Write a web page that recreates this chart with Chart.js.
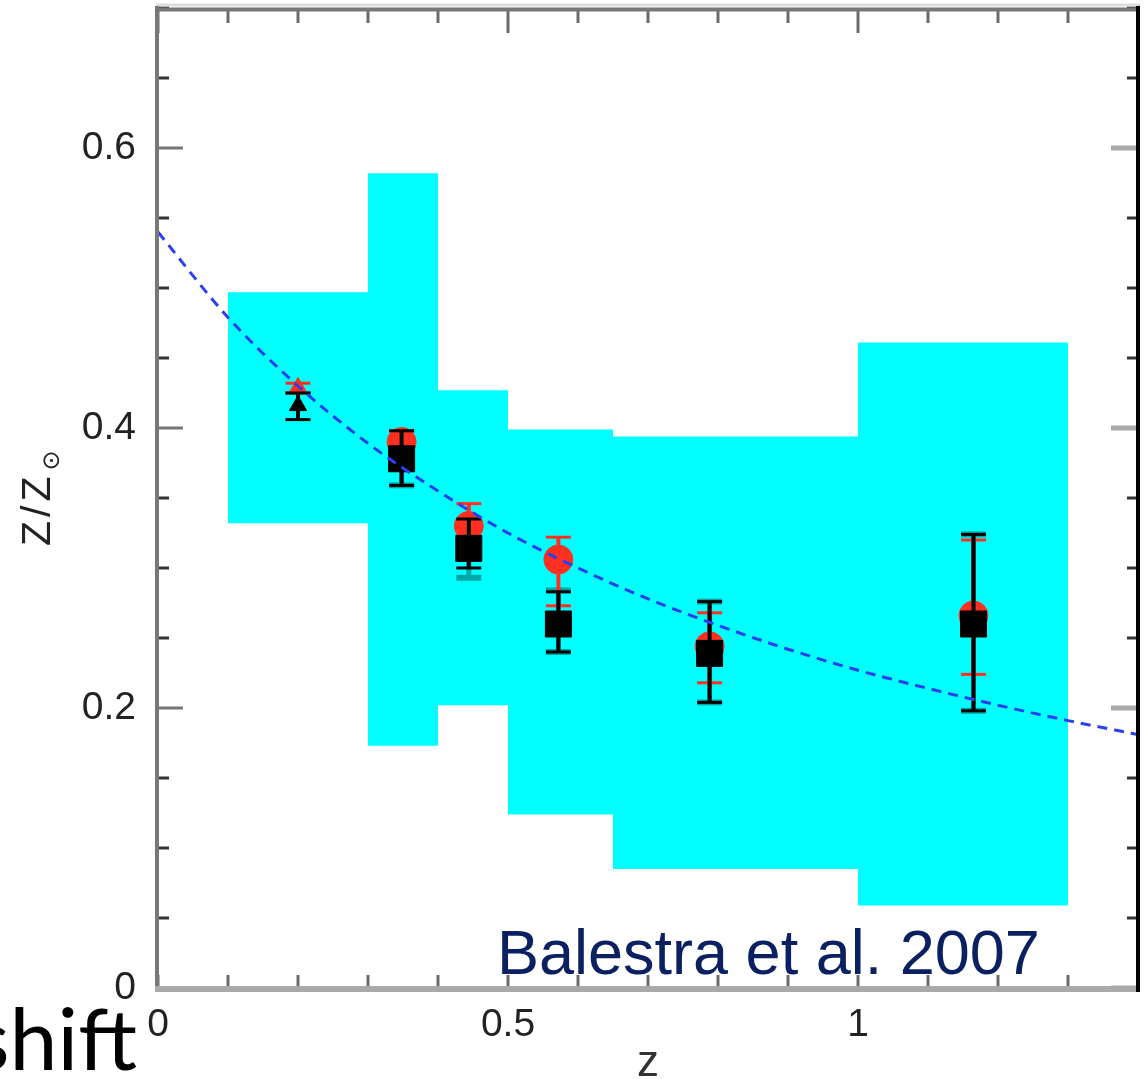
<!DOCTYPE html>
<html>
<head>
<meta charset="utf-8">
<script src="https://cdn.jsdelivr.net/npm/chart.js@4/dist/chart.umd.min.js"></script>
<style>
html,body{margin:0;padding:0;background:#fff;overflow:hidden;}
#wrap{position:relative;width:1148px;height:1079px;overflow:hidden;}
#c{position:absolute;left:0;top:0;}
#cite{position:absolute;left:497px;top:921px;font-family:'Liberation Sans',Arial,sans-serif;font-size:63px;line-height:1;color:#0b2060;white-space:nowrap;}
#shift{position:absolute;right:1011px;top:994px;font-family:Lato,'Open Sans',sans-serif;font-size:86px;line-height:1;color:#000;white-space:nowrap;}
</style>
</head>
<body>
<div id="wrap">
<canvas id="c" width="1148" height="1079"></canvas>
<div id="cite">Balestra et al. 2007</div>
<div id="shift">shift</div>
</div>
<script>
// ---- data ----
const binStart = [0.1, 0.3, 0.4, 0.5, 0.65, 1.0];
const binEnd   = [0.3, 0.4, 0.5, 0.65, 1.0, 1.3];
const binLow   = [0.332, 0.173, 0.202, 0.124, 0.085, 0.059];
const binHigh  = [0.497, 0.582, 0.427, 0.399, 0.394, 0.461];

const pointZ        = [0.200, 0.348, 0.444, 0.572, 0.788, 1.165];
const redValues     = [0.429, 0.390, 0.330, 0.306, 0.244, 0.266];
const redErrLow     = [0.425, 0.382, 0.320, 0.273, 0.218, 0.224];
const redErrHigh    = [0.432, 0.398, 0.346, 0.322, 0.268, 0.320];
const blackValues   = [0.416, 0.378, 0.314, 0.260, 0.239, 0.260];
const blackErrLow   = [0.406, 0.359, 0.300, 0.240, 0.204, 0.198];
const blackErrHigh  = [0.425, 0.398, 0.335, 0.283, 0.276, 0.324];
const tealErrLow    = [null, 0.359, 0.293, 0.240, 0.204, 0.198];
const tealErrHigh   = [null, 0.378, 0.314, 0.284, 0.276, 0.324];
const redMarkers    = ['triangle', 'circle', 'circle', 'circle', 'circle', 'circle'];
const blackMarkers  = ['triangle', 'rect', 'rect', 'rect', 'rect', 'rect'];

const fitZ      = [0, 0.1, 0.2, 0.3, 0.4, 0.5, 0.6, 0.7, 0.8, 0.9, 1.0, 1.1, 1.2, 1.3, 1.4];
const fitValues = [0.540, 0.479, 0.430, 0.389, 0.355, 0.325, 0.300, 0.278, 0.259, 0.242, 0.227, 0.214, 0.202, 0.191, 0.181];

const xTickValues = [0, 0.5, 1];
const xTickLabels = ['0', '0.5', '1'];
const yTickValues = [0, 0.2, 0.4, 0.6];
const yTickLabels = ['0', '0.2', '0.4', '0.6'];

// ---- build datasets ----
const TICKFONT = "'Liberation Sans Narrow','Liberation Sans',Arial,sans-serif";
function near(list, v){ return list.findIndex(t => Math.abs(t - v) < 1e-6); }

const boxDatasets = binStart.map((x0, i) => ({
  type: 'line',
  data: [
    {x: x0, y: binLow[i]}, {x: x0, y: binHigh[i]},
    {x: binEnd[i], y: binHigh[i]}, {x: binEnd[i], y: binLow[i]},
    {x: x0, y: binLow[i]}
  ],
  fill: 'shape', backgroundColor: '#00ffff', borderColor: 'rgba(0,0,0,0)', borderWidth: 0,
  pointRadius: 0, tension: 0, order: 10
}));

function errData(lo, hi){
  const d = [];
  pointZ.forEach((z, i) => {
    if (lo[i] == null) return;
    d.push({x: z, y: lo[i]}, {x: z, y: hi[i]}, {x: z, y: null});
  });
  return d;
}
function errSet(lo, hi, color, stem, capW, order){
  return {
    type: 'line', data: errData(lo, hi), spanGaps: false, fill: false, tension: 0,
    borderColor: color, borderWidth: stem,
    pointStyle: 'line', pointRadius: 12.5, pointBorderWidth: capW,
    pointBorderColor: color, pointBackgroundColor: color, order: order
  };
}

const datasets = [
  ...boxDatasets,
  errSet(tealErrLow, tealErrHigh, '#00a6a6', 5, 6, 5),
  errSet(redErrLow, redErrHigh, '#ff3020', 4, 3, 4),
  {
    type: 'line', data: pointZ.map((z, i) => ({x: z, y: redValues[i]})), showLine: false,
    pointStyle: redMarkers, pointRadius: redMarkers.map(s => s === 'triangle' ? 10 : 14.5),
    pointBackgroundColor: '#ff3020', pointBorderColor: '#ff3020', pointBorderWidth: 1, order: 3
  },
  errSet(blackErrLow, blackErrHigh, '#000000', 4, 3, 2),
  {
    type: 'line', data: pointZ.map((z, i) => ({x: z, y: blackValues[i]})), showLine: false,
    pointStyle: blackMarkers, pointRadius: blackMarkers.map(s => s === 'triangle' ? 10 : 18.4),
    pointBackgroundColor: '#000000', pointBorderColor: '#000000', pointBorderWidth: 1, order: 1
  },
  {
    type: 'line', data: fitZ.map((z, i) => ({x: z, y: fitValues[i]})),
    borderColor: '#2a40f0', borderWidth: 3, borderDash: [10, 7], pointRadius: 0,
    cubicInterpolationMode: 'monotone', fill: false, order: 0
  }
];

// ---- frame, inward ticks and y title ----
const framePlugin = {
  id: 'frame',
  afterDraw(chart){
    const {ctx, chartArea: a, scales: {x, y}} = chart;
    function seg(x1, y1, x2, y2, c, w){
      ctx.beginPath(); ctx.strokeStyle = c; ctx.lineWidth = w;
      ctx.moveTo(x1, y1); ctx.lineTo(x2, y2); ctx.stroke();
    }
    ctx.save();
    ctx.lineCap = 'butt';
    x.ticks.forEach(t => {
      const px = x.getPixelForValue(t.value);
      const major = near(xTickValues, t.value) >= 0;
      seg(px, a.bottom, px, a.bottom - 13, '#6a6a6a', 3);
      seg(px, a.top, px, a.top + (major ? 25 : 15), '#6a6a6a', 3);
    });
    y.ticks.forEach(t => {
      const py = y.getPixelForValue(t.value);
      const major = near(yTickValues, t.value) >= 0;
      seg(a.left, py, a.left + (major ? 25 : 11), py, major ? '#777777' : '#333333', 3);
      seg(a.right, py, a.right - (major ? 27 : 11), py, major ? '#aaaaaa' : '#333333', major ? 5 : 3);
    });
    seg(a.left - 2, a.top - 3, a.right + 2, a.top - 3, '#dddddd', 3);
    seg(a.left - 1, a.top - 2, a.left - 1, a.bottom + 4, '#787878', 4);
    seg(a.left - 3, a.top + 1.5, a.right + 2, a.top + 1.5, '#787878', 4);
    seg(a.left - 3, a.bottom + 1, a.right + 2, a.bottom + 1, '#aaaaaa', 6);
    seg(a.right, a.top - 2, a.right, a.bottom + 4, '#000000', 4);

    // rotated y-axis title with subscript sun symbol
    ctx.translate(50, 546);
    ctx.rotate(-Math.PI / 2);
    ctx.fillStyle = '#222222';
    ctx.textAlign = 'left';
    ctx.textBaseline = 'alphabetic';
    ctx.font = "41px 'Liberation Sans',Arial,sans-serif";
    try { ctx.letterSpacing = '4px'; } catch(e) {}
    ctx.fillText('Z/Z', 0, 0);
    const w = ctx.measureText('Z/Z').width;
    try { ctx.letterSpacing = '0px'; } catch(e) {}
    ctx.font = "24px 'DejaVu Sans',sans-serif";
    ctx.fillText('\u2299', w + 2, 9);
    ctx.restore();
  }
};

Chart.defaults.font.family = TICKFONT;

function noPad(s){ s.paddingTop = 0; s.paddingBottom = 0; s.paddingLeft = 0; s.paddingRight = 0; }

new Chart(document.getElementById('c'), {
  type: 'line',
  data: {datasets: datasets},
  options: {
    responsive: false,
    animation: false,
    events: [],
    layout: {autoPadding: false, padding: {left: 0, right: 10, top: 8, bottom: 0}},
    plugins: {legend: {display: false}, tooltip: {enabled: false}},
    scales: {
      x: {
        type: 'linear', min: 0, max: 1.4,
        grid: {display: false, drawTicks: false}, border: {display: false},
        ticks: {
          stepSize: 0.1, autoSkip: false, maxRotation: 0, padding: 14, maxTicksLimit: 30,
          color: '#222222', font: {family: TICKFONT, size: 39},
          callback: v => { const k = near(xTickValues, v); return k >= 0 ? xTickLabels[k] : ''; }
        },
        title: {display: true, text: 'z', color: '#333333', padding: 0,
                font: {family: TICKFONT, size: 44, lineHeight: 0.7}},
        afterFit: s => { s.height = 91; noPad(s); }
      },
      y: {
        type: 'linear', min: 0, max: 0.7,
        grid: {display: false, drawTicks: false}, border: {display: false},
        ticks: {
          stepSize: 0.05, autoSkip: false, padding: 22, maxTicksLimit: 30,
          color: '#222222', font: {family: TICKFONT, size: 39},
          callback: v => { const k = near(yTickValues, v); return k >= 0 ? yTickLabels[k] : ''; }
        },
        afterFit: s => { s.width = 158; noPad(s); }
      }
    }
  },
  plugins: [framePlugin]
});
</script>
</body>
</html>
